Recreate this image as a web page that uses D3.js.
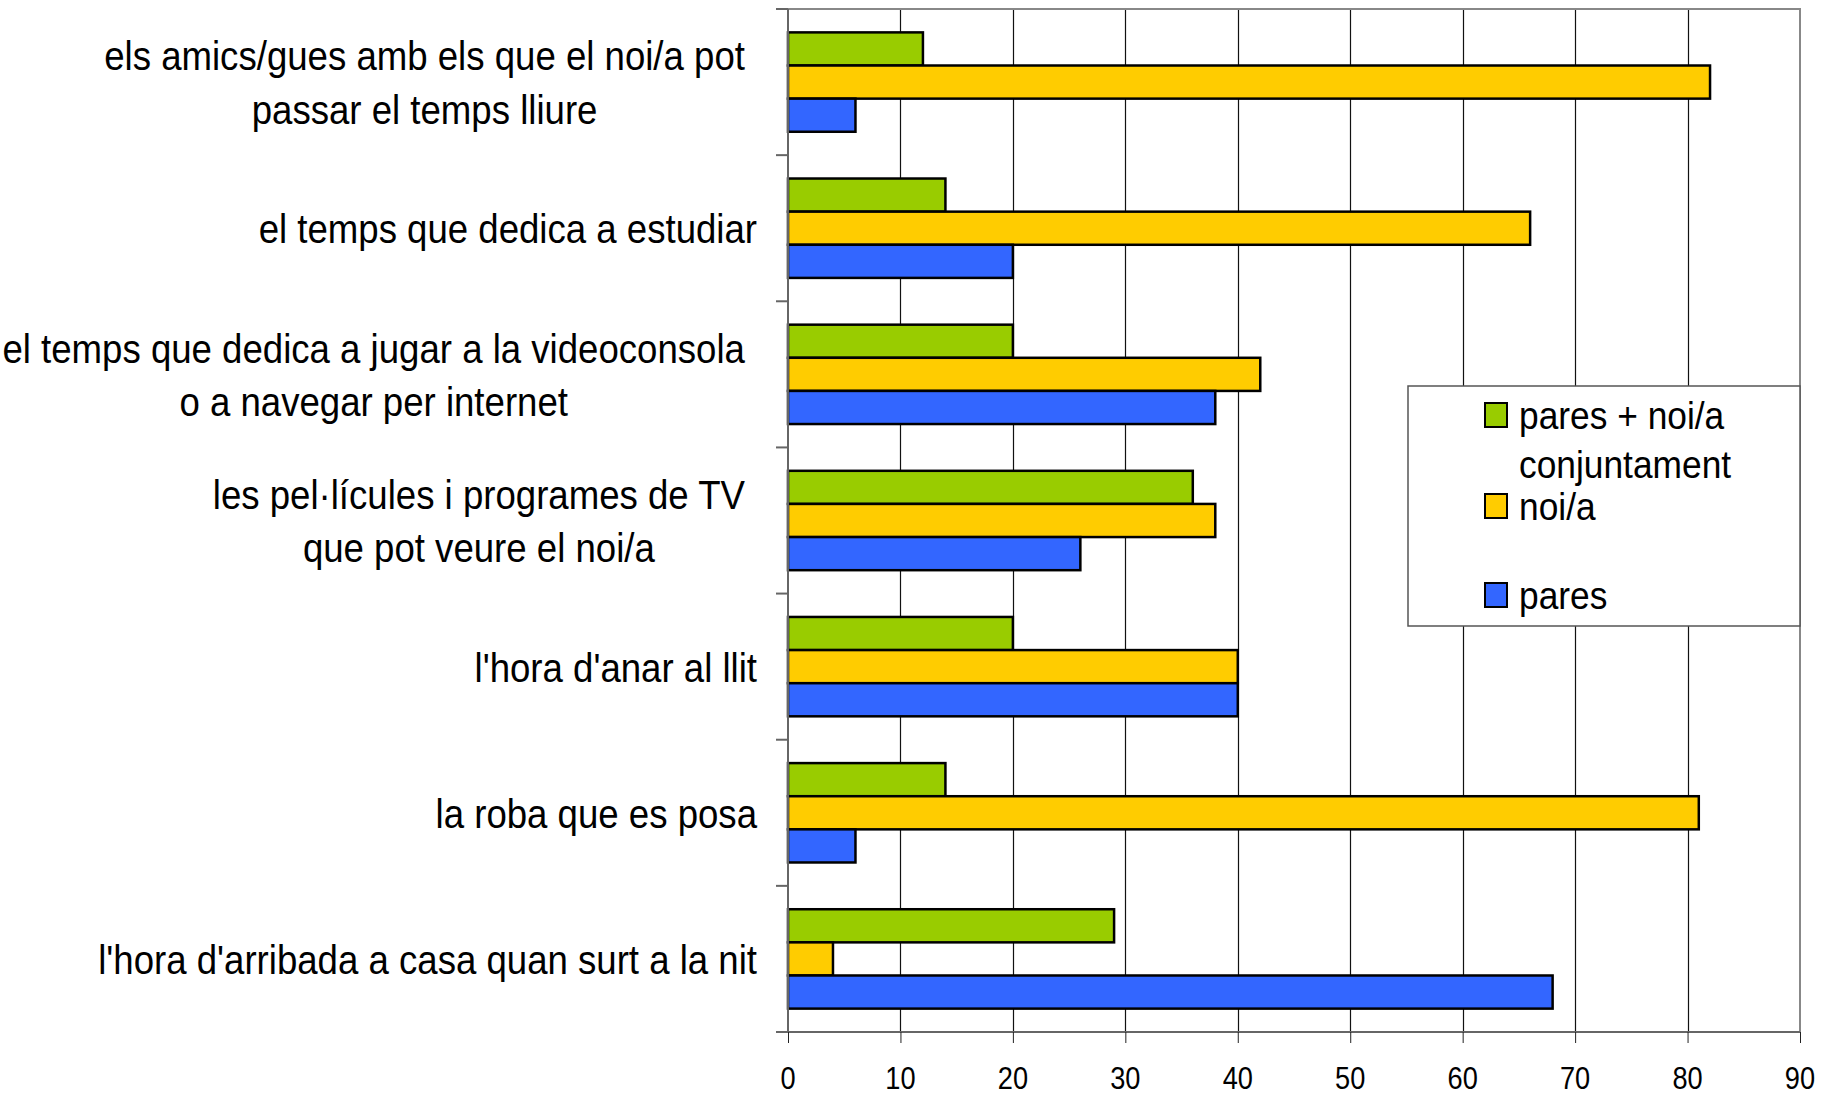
<!DOCTYPE html>
<html>
<head>
<meta charset="utf-8">
<script src="https://cdnjs.cloudflare.com/ajax/libs/d3/7.8.5/d3.min.js"></script>
<style>
  body { margin: 0; background: #fff; }
  text { font-family: "Liberation Sans", Arial, sans-serif; fill: #000; }
</style>
</head>
<body>
<script>
// chart size
var w = 1826;
var h = 1096;

// categories, each split in the lines used on the axis
const categoryLines = [
  ["els amics/gues amb els que el noi/a pot", "passar el temps lliure"],
  ["el temps que dedica a estudiar"],
  ["el temps que dedica a jugar a la videoconsola", "o a navegar per internet"],
  ["les pel·lícules i programes de TV", "que pot veure el noi/a"],
  ["l'hora d'anar al llit"],
  ["la roba que es posa"],
  ["l'hora d'arribada a casa quan surt a la nit"]
];
const categories = categoryLines.map(function(l) { return l.join(" "); });

const seriesNames = ["pares + noi/a conjuntament", "noi/a", "pares"];
const legendLines = [["pares + noi/a", "conjuntament"], ["noi/a"], ["pares"]];
const seriesColors = ["#99cc00", "#ffcc00", "#3366ff"];

// values per series, same order as categories
const conjuntament = [12, 14, 20, 36, 20, 14, 29];
const noia = [82, 66, 42, 38, 40, 81, 4];
const pares = [6, 20, 38, 26, 40, 6, 68];
const seriesValues = [conjuntament, noia, pares];

const xTicks = [0, 10, 20, 30, 40, 50, 60, 70, 80, 90];

var plotLeft = 788, plotRight = 1800, plotTop = 9, plotBottom = 1032;

var svg = d3.select("body").append("svg")
  .attr("width", w)
  .attr("height", h);

var x = d3.scaleLinear().domain([0, 90]).range([plotLeft, plotRight]);

var y0 = d3.scaleBand()
  .domain(categories)
  .range([plotTop, plotBottom])
  .paddingInner(0.32)
  .paddingOuter(0.16);

var y1 = d3.scaleBand()
  .domain(seriesNames)
  .range([0, y0.bandwidth()]);

// gridlines
svg.append("g").selectAll("line")
  .data(xTicks.slice(1, -1))
  .enter().append("line")
  .attr("x1", function(d) { return Math.round(x(d)) + 0.5; })
  .attr("x2", function(d) { return Math.round(x(d)) + 0.5; })
  .attr("y1", plotTop)
  .attr("y2", plotBottom)
  .attr("stroke", "#111")
  .attr("stroke-width", 1.2);

// plot frame top and right
svg.append("path")
  .attr("d", "M" + plotLeft + "," + plotTop + "H" + plotRight + "V" + plotBottom)
  .attr("fill", "none")
  .attr("stroke", "#888")
  .attr("stroke-width", 2);

// bars
var rows = [];
categories.forEach(function(c, i) {
  seriesNames.forEach(function(s, j) {
    rows.push({cat: c, ser: s, value: seriesValues[j][i], color: seriesColors[j]});
  });
});

svg.append("g").selectAll("rect")
  .data(rows)
  .enter().append("rect")
  .attr("x", x(0))
  .attr("y", function(d) { return y0(d.cat) + y1(d.ser); })
  .attr("width", function(d) { return x(d.value) - x(0); })
  .attr("height", y1.bandwidth())
  .attr("fill", function(d) { return d.color; })
  .attr("stroke", "#000")
  .attr("stroke-width", 2.5);

// bottom axis
var xAxis = svg.append("g")
  .attr("transform", "translate(0," + plotBottom + ")")
  .call(d3.axisBottom(x).tickValues(xTicks).tickSize(11).tickFormat(""));
xAxis.select(".domain").attr("stroke", "#666").attr("stroke-width", 2)
  .attr("d", "M" + (plotLeft - 12) + ",0H" + plotRight);
xAxis.selectAll(".tick line").attr("stroke", "#222");

svg.append("g").selectAll("text")
  .data(xTicks)
  .enter().append("text")
  .attr("transform", function(d) { return "translate(" + x(d) + ",1089) scale(0.85,1)"; })
  .attr("text-anchor", "middle")
  .style("font-size", "32px")
  .text(function(d) { return d; });

// left axis with ticks at band boundaries
var step = y0.step();
var bounds = d3.range(categories.length + 1).map(function(i) { return plotTop + i * step; });
svg.append("line")
  .attr("x1", plotLeft).attr("x2", plotLeft)
  .attr("y1", plotTop).attr("y2", plotBottom)
  .attr("stroke", "#666").attr("stroke-width", 2);
svg.append("g").selectAll("line")
  .data(bounds)
  .enter().append("line")
  .attr("x1", plotLeft - 12).attr("x2", plotLeft)
  .attr("y1", function(d) { return d; })
  .attr("y2", function(d) { return d; })
  .attr("stroke", "#666").attr("stroke-width", 2);

// category labels
var fs = 40, sx = 0.915, lineGap = 53.6, baseOff = 15;
var labels = svg.append("g");
categoryLines.forEach(function(lines, i) {
  var cy = y0(categories[i]) + y0.bandwidth() / 2;
  if (lines.length == 1) {
    labels.append("text")
      .attr("transform", "translate(757," + (cy + baseOff) + ") scale(" + sx + ",1)")
      .attr("text-anchor", "end")
      .style("font-size", fs + "px")
      .text(lines[0]);
  } else {
    var g = labels.append("g");
    var texts = lines.map(function(t, k) {
      return g.append("text")
        .attr("text-anchor", "middle")
        .attr("y", cy + baseOff + (k - (lines.length - 1) / 2) * lineGap)
        .style("font-size", fs + "px")
        .text(t);
    });
    var maxW = d3.max(texts, function(t) { return t.node().getComputedTextLength(); }) * sx;
    var cx = 745 - maxW / 2;
    g.attr("transform", "translate(" + cx + ",0) scale(" + sx + ",1)");
  }
});

// legend
var legend = svg.append("g");
legend.append("rect")
  .attr("x", 1408).attr("y", 386)
  .attr("width", 392).attr("height", 240)
  .attr("fill", "#fff")
  .attr("stroke", "#555").attr("stroke-width", 1.5);

var legendY = [403, 494, 583];
seriesNames.forEach(function(s, j) {
  legend.append("rect")
    .attr("x", 1485).attr("y", legendY[j])
    .attr("width", 22).attr("height", 24)
    .attr("fill", seriesColors[j])
    .attr("stroke", "#000").attr("stroke-width", 2);
  legendLines[j].forEach(function(t, k) {
    legend.append("text")
      .attr("transform", "translate(1519," + (legendY[j] + 26 + k * 49) + ") scale(0.93,1)")
      .style("font-size", "38px")
      .text(t);
  });
});
</script>
</body>
</html>
